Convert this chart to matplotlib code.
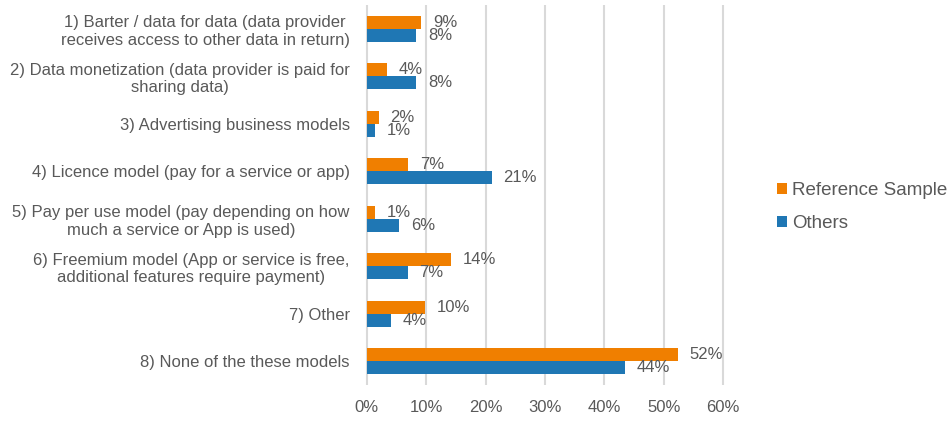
import matplotlib
matplotlib.use("Agg")
import matplotlib.pyplot as plt
from matplotlib.patches import Patch
import numpy as np

plt.rcParams['font.family'] = ['Liberation Sans', 'DejaVu Sans']

categories = [
    "1) Barter / data for data (data provider\nreceives access to other data in return)",
    "2) Data monetization (data provider is paid for\nsharing data)",
    "3) Advertising business models",
    "4) Licence model (pay for a service or app)",
    "5) Pay per use model (pay depending on how\nmuch a service or App is used)",
    "6) Freemium model (App or service is free,\nadditional features require payment)",
    "7) Other",
    "8) None of the these models",
]
reference_sample = [9.2, 3.4, 2.0, 7.0, 1.3, 14.1, 9.8, 52.4]
others = [8.3, 8.3, 1.3, 21.0, 5.5, 6.9, 4.1, 43.5]
reference_labels = ["9%", "4%", "2%", "7%", "1%", "14%", "10%", "52%"]
others_labels = ["8%", "8%", "1%", "21%", "6%", "7%", "4%", "44%"]
xticks = [0, 10, 20, 30, 40, 50, 60]

ORANGE = "#F07F00"
BLUE = "#1F77B4"
TXT = "#595959"
GRID = "#D9D9D9"
FS = 12

fig = plt.figure(figsize=(9.5, 4.23), dpi=100)
ax = fig.add_axes([365/950, 1 - 385/423, 360/950, 380/423])

y = np.arange(len(categories))
h = 0.275
ax.barh(y - h/2, reference_sample, height=h, color=ORANGE, zorder=3, label="Reference Sample")
ax.barh(y + h/2, others, height=h, color=BLUE, zorder=3, label="Others")

for yi, v, lab in zip(y, reference_sample, reference_labels):
    ax.annotate(lab, (v, yi - h/2), xytext=(8.5, 0), textcoords="offset points",
                va="center", ha="left", fontsize=FS, color=TXT)
for yi, v, lab in zip(y, others, others_labels):
    ax.annotate(lab, (v, yi + h/2), xytext=(8.5, 0), textcoords="offset points",
                va="center", ha="left", fontsize=FS, color=TXT)

ax.set_ylim(len(categories) - 0.5, -0.5)
ax.set_xticks(xticks)
ax.set_xticklabels([f"{t}%" for t in xticks], fontsize=FS, color=TXT)
ax.set_yticks(y)
ax.set_yticklabels(categories, fontsize=FS, color=TXT, multialignment="center")
ax.tick_params(axis="both", length=0)
ax.tick_params(axis="y", pad=11)
ax.tick_params(axis="x", pad=11)
ax.xaxis.grid(True, color=GRID, linewidth=1.5, zorder=0)
ax.set_axisbelow(True)
ax.set_xlim(-0.3, 60.3)
for s in ax.spines.values():
    s.set_visible(False)

handles = [Patch(facecolor=ORANGE, label="Reference Sample"),
           Patch(facecolor=BLUE, label="Others")]
fig.legend(handles=handles, loc="center left", bbox_to_anchor=(777/950, 1 - 207/423),
           frameon=False, fontsize=13.5, labelcolor=TXT, handlelength=0.55, handleheight=0.55,
           handletextpad=0.25, labelspacing=0.85, borderaxespad=0, borderpad=0)

fig.savefig("out.png", dpi=100)
